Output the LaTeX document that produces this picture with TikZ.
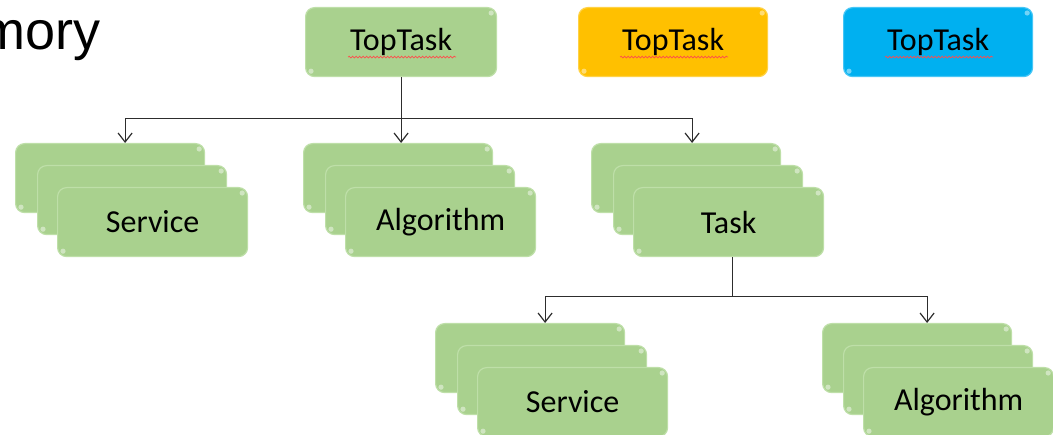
\documentclass[tikz,border=0pt]{standalone}
\usepackage{fontspec}
\setmainfont{Carlito}
\newfontfamily\arialfont{Liberation Sans}
\usetikzlibrary{arrows.meta,decorations.pathmorphing}
\definecolor{boxgreen}{RGB}{169,209,142}
\definecolor{boxgreenedge}{RGB}{190,223,168}
\definecolor{boxorange}{RGB}{255,192,0}
\definecolor{boxorangeedge}{RGB}{255,210,70}
\definecolor{boxblue}{RGB}{0,176,240}
\definecolor{boxblueedge}{RGB}{70,198,246}
\definecolor{linegray}{RGB}{45,45,45}
\tikzset{
  card/.style={rectangle, rounded corners=9pt, minimum width=189pt, minimum height=69pt,
    anchor=north west, inner sep=0pt, font=\fontsize{32}{38}\selectfont, text=black, line width=1.2pt},
  greencard/.style={card, fill=boxgreen, draw=boxgreenedge},
  orangecard/.style={card, fill=boxorange, draw=boxorangeedge},
  bluecard/.style={card, fill=boxblue, draw=boxblueedge},
  link/.style={draw=linegray, line width=1.2pt},
  arrowlink/.style={link, -{Straight Barb[length=9pt,width=14pt]}},
  spell/.style={draw=red!70!white, line width=0.7pt, decorate,
    decoration={snake, amplitude=0.9pt, segment length=3.5pt}},
  gloss/.style={fill=white, opacity=0.45}
}
\begin{document}
\begin{tikzpicture}[x=1pt,y=-1pt]
\useasboundingbox (0,0) rectangle (1053,435);

\node[anchor=base east, inner sep=0pt, font=\arialfont\fontsize{54}{60}\selectfont] (mem) at (101,50) {mory};

% top row
\node[greencard, minimum width=191pt] (top) at (305,7) {TopTask};
\node[orangecard] (topo) at (578,7) {TopTask};
\node[bluecard] (topb) at (843,7) {TopTask};
\foreach \n in {top,topo,topb}{
  \draw[spell] ([xshift=-53pt,yshift=-15pt]\n.center) -- ([xshift=55pt,yshift=-15pt]\n.center);
}

% second row stacks
\node[greencard] (s1a) at (15,143) {};
\node[greencard] (s1b) at (37,165) {};
\node[greencard, minimum width=190pt] (s1c) at (57,187) {Service};

\node[greencard] (a1a) at (303,143) {};
\node[greencard] (a1b) at (325,165) {};
\node[greencard, minimum width=190pt] (a1c) at (345,187) {Algorithm};

\node[greencard] (t1a) at (591,143) {};
\node[greencard] (t1b) at (613,165) {};
\node[greencard, minimum width=190pt] (t1c) at (633,187) {Task};

% third row stacks
\node[greencard] (s2a) at (435,323) {};
\node[greencard] (s2b) at (457,345) {};
\node[greencard, minimum width=190pt] (s2c) at (477,367) {Service};

\node[greencard] (a2a) at (822,323) {};
\node[greencard] (a2b) at (843,345) {};
\node[greencard, minimum width=190pt] (a2c) at (863,367) {Algorithm};

% glossy corner highlights
\foreach \n in {top,topo,topb,s1a,s1b,s1c,a1a,a1b,a1c,t1a,t1b,t1c,s2a,s2b,s2c,a2a,a2b,a2c}{
  \fill[gloss] ([xshift=-6pt,yshift=-6pt]\n.north east) circle (2.6pt);
  \fill[gloss] ([xshift=6pt,yshift=6pt]\n.south west) circle (2.6pt);
}

% connectors level 1
\coordinate (j1) at ([yshift=-41pt]top.south);
\coordinate (s1in) at ([xshift=15pt]s1a.north);
\coordinate (a1in) at (j1 |- a1a.north);
\coordinate (t1in) at ([xshift=6pt]t1a.north);
\draw[link] (top.south) -- (j1);
\draw[arrowlink] (j1) -| (s1in);
\draw[arrowlink] (j1) -- (a1in);
\draw[arrowlink] (j1) -| (t1in);

% connectors level 2
\coordinate (t1out) at ([xshift=4pt]t1c.south);
\coordinate (j2) at ([yshift=-39pt]t1out);
\coordinate (s2in) at ([xshift=15pt]s2a.north);
\coordinate (a2in) at ([xshift=10pt]a2a.north);
\draw[link] (t1out) -- (j2);
\draw[arrowlink] (j2) -| (s2in);
\draw[arrowlink] (j2) -| (a2in);
\end{tikzpicture}
\end{document}
